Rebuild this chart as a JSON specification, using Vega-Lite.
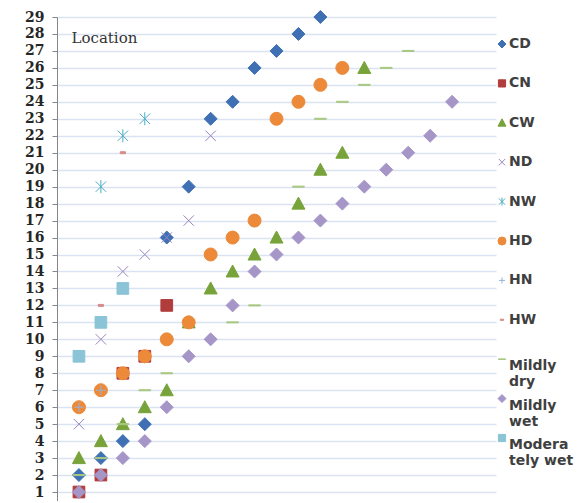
{
  "$schema": "https://vega.github.io/schema/vega-lite/v6.json",
  "width": 439,
  "height": 483.5,
  "autosize": {"type": "none"},
  "padding": {"left": 57, "top": 17, "right": 88, "bottom": 2.5},
  "background": "white",
  "config": {
    "view": {"stroke": null},
    "axis": {"domainColor": "#868686", "tickColor": "#868686"}
  },
  "data": {
    "values": [
      {"s": "CD", "x": 1, "y": 2}, {"s": "CD", "x": 2, "y": 3}, {"s": "CD", "x": 3, "y": 4}, {"s": "CD", "x": 4, "y": 5},
      {"s": "CD", "x": 5, "y": 16}, {"s": "CD", "x": 6, "y": 19}, {"s": "CD", "x": 7, "y": 23}, {"s": "CD", "x": 8, "y": 24},
      {"s": "CD", "x": 9, "y": 26}, {"s": "CD", "x": 10, "y": 27}, {"s": "CD", "x": 11, "y": 28}, {"s": "CD", "x": 12, "y": 29},
      {"s": "CN", "x": 1, "y": 1}, {"s": "CN", "x": 2, "y": 2}, {"s": "CN", "x": 3, "y": 8}, {"s": "CN", "x": 4, "y": 9}, {"s": "CN", "x": 5, "y": 12},
      {"s": "CW", "x": 1, "y": 3}, {"s": "CW", "x": 2, "y": 4}, {"s": "CW", "x": 3, "y": 5}, {"s": "CW", "x": 4, "y": 6},
      {"s": "CW", "x": 5, "y": 7}, {"s": "CW", "x": 6, "y": 11}, {"s": "CW", "x": 7, "y": 13}, {"s": "CW", "x": 8, "y": 14},
      {"s": "CW", "x": 9, "y": 15}, {"s": "CW", "x": 10, "y": 16}, {"s": "CW", "x": 11, "y": 18}, {"s": "CW", "x": 12, "y": 20},
      {"s": "CW", "x": 13, "y": 21}, {"s": "CW", "x": 14, "y": 26},
      {"s": "ND", "x": 1, "y": 5}, {"s": "ND", "x": 2, "y": 10}, {"s": "ND", "x": 3, "y": 14}, {"s": "ND", "x": 4, "y": 15},
      {"s": "ND", "x": 5, "y": 16}, {"s": "ND", "x": 6, "y": 17}, {"s": "ND", "x": 7, "y": 22},
      {"s": "NW", "x": 2, "y": 19}, {"s": "NW", "x": 3, "y": 22}, {"s": "NW", "x": 4, "y": 23},
      {"s": "HD", "x": 1, "y": 6}, {"s": "HD", "x": 2, "y": 7}, {"s": "HD", "x": 3, "y": 8}, {"s": "HD", "x": 4, "y": 9},
      {"s": "HD", "x": 5, "y": 10}, {"s": "HD", "x": 6, "y": 11}, {"s": "HD", "x": 7, "y": 15}, {"s": "HD", "x": 8, "y": 16},
      {"s": "HD", "x": 9, "y": 17}, {"s": "HD", "x": 10, "y": 23}, {"s": "HD", "x": 11, "y": 24}, {"s": "HD", "x": 12, "y": 25},
      {"s": "HD", "x": 13, "y": 26},
      {"s": "HN", "x": 1, "y": 6}, {"s": "HN", "x": 2, "y": 7},
      {"s": "HW", "x": 2, "y": 12}, {"s": "HW", "x": 3, "y": 21},
      {"s": "Mildly dry", "x": 1, "y": 2}, {"s": "Mildly dry", "x": 2, "y": 3}, {"s": "Mildly dry", "x": 3, "y": 5},
      {"s": "Mildly dry", "x": 4, "y": 7}, {"s": "Mildly dry", "x": 5, "y": 8}, {"s": "Mildly dry", "x": 8, "y": 11},
      {"s": "Mildly dry", "x": 9, "y": 12}, {"s": "Mildly dry", "x": 11, "y": 19}, {"s": "Mildly dry", "x": 12, "y": 23},
      {"s": "Mildly dry", "x": 13, "y": 24}, {"s": "Mildly dry", "x": 14, "y": 25}, {"s": "Mildly dry", "x": 15, "y": 26},
      {"s": "Mildly dry", "x": 16, "y": 27},
      {"s": "Mildly wet", "x": 1, "y": 1}, {"s": "Mildly wet", "x": 2, "y": 2}, {"s": "Mildly wet", "x": 3, "y": 3},
      {"s": "Mildly wet", "x": 4, "y": 4}, {"s": "Mildly wet", "x": 5, "y": 6}, {"s": "Mildly wet", "x": 6, "y": 9},
      {"s": "Mildly wet", "x": 7, "y": 10}, {"s": "Mildly wet", "x": 8, "y": 12}, {"s": "Mildly wet", "x": 9, "y": 14},
      {"s": "Mildly wet", "x": 10, "y": 15}, {"s": "Mildly wet", "x": 11, "y": 16}, {"s": "Mildly wet", "x": 12, "y": 17},
      {"s": "Mildly wet", "x": 13, "y": 18}, {"s": "Mildly wet", "x": 14, "y": 19}, {"s": "Mildly wet", "x": 15, "y": 20},
      {"s": "Mildly wet", "x": 16, "y": 21}, {"s": "Mildly wet", "x": 17, "y": 22}, {"s": "Mildly wet", "x": 18, "y": 24},
      {"s": "Moderately wet", "x": 1, "y": 9}, {"s": "Moderately wet", "x": 2, "y": 11}, {"s": "Moderately wet", "x": 3, "y": 13}
    ]
  },
  "mark": {"type": "point", "filled": true, "opacity": 1, "strokeWidth": 1, "size": 169},
  "encoding": {
    "x": {"field": "x", "type": "quantitative", "scale": {"domain": [0, 20], "nice": false, "zero": false}, "axis": null},
    "y": {
      "field": "y", "type": "quantitative",
      "scale": {"domain": [0.5, 29], "nice": false, "zero": false},
      "axis": {
        "title": "Location",
        "titleAngle": 0, "titleX": 14, "titleY": 25, "titleAlign": "left", "titleBaseline": "alphabetic",
        "titleFont": "DejaVu Serif", "titleFontSize": 15, "titleFontWeight": "normal", "titleColor": "#333333",
        "values": [1,2,3,4,5,6,7,8,9,10,11,12,13,14,15,16,17,18,19,20,21,22,23,24,25,26,27,28,29],
        "grid": true, "gridColor": "#d9e3f1", "gridWidth": 1.3,
        "tickSize": 5, "labelPadding": 8,
        "labelFont": "DejaVu Serif", "labelFontSize": 14, "labelFontWeight": "bold", "labelColor": "#262626",
        "labelBound": false, "labelOverlap": false
      }
    },
    "fill": {
      "field": "s", "type": "nominal",
      "scale": {
        "domain": ["CD","CN","CW","ND","NW","HD","HN","HW","Mildly dry","Mildly wet","Moderately wet"],
        "range": ["#3e70b3","#b23c3c","#78a33a","#9a85c0","#4bacc6","#ec8a3a","#95b3d7","#d98a8a","#a8c880","#a696c8","#8ac4d6"]
      },
      "legend": {
        "orient": "none", "legendX": 438, "legendY": 20, "title": null,
        "symbolSize": 64, "symbolStrokeWidth": 1, "labelOffset": 0,
        "labelFont": "DejaVu Sans", "labelFontSize": 14, "labelFontWeight": "bold", "labelColor": "#404040",
        "gridAlign": "all", "rowPadding": 2.4, "labelLimit": 200,
        "labelExpr": "datum.label == 'Mildly dry' ? ['Mildly','dry'] : datum.label == 'Mildly wet' ? ['Mildly','wet'] : datum.label == 'Moderately wet' ? ['Modera','tely wet'] : datum.label",
        "labelBaseline": {"expr": "indexof(['Mildly dry','Mildly wet','Moderately wet'], datum.value) >= 0 ? 'top' : 'middle'"}
      }
    },
    "stroke": {
      "field": "s", "type": "nominal",
      "scale": {
        "domain": ["CD","CN","CW","ND","NW","HD","HN","HW","Mildly dry","Mildly wet","Moderately wet"],
        "range": ["#3e70b3","#b23c3c","#78a33a","#9a85c0","#4bacc6","#ec8a3a","#95b3d7","#d98a8a","#a8c880","#a696c8","#8ac4d6"]
      },
      "legend": {
        "orient": "none", "legendX": 438, "legendY": 20, "title": null,
        "symbolSize": 64, "symbolStrokeWidth": 1, "labelOffset": 0,
        "labelFont": "DejaVu Sans", "labelFontSize": 14, "labelFontWeight": "bold", "labelColor": "#404040",
        "gridAlign": "all", "rowPadding": 2.4, "labelLimit": 200,
        "labelExpr": "datum.label == 'Mildly dry' ? ['Mildly','dry'] : datum.label == 'Mildly wet' ? ['Mildly','wet'] : datum.label == 'Moderately wet' ? ['Modera','tely wet'] : datum.label",
        "labelBaseline": {"expr": "indexof(['Mildly dry','Mildly wet','Moderately wet'], datum.value) >= 0 ? 'top' : 'middle'"}
      }
    },
    "shape": {
      "field": "s", "type": "nominal",
      "scale": {
        "domain": ["CD","CN","CW","ND","NW","HD","HN","HW","Mildly dry","Mildly wet","Moderately wet"],
        "range": [
          "M-1,0L0,-1L1,0L0,1Z",
          "M-0.9,-0.9L0.9,-0.9L0.9,0.9L-0.9,0.9Z",
          "M0,-1L1,0.85L-1,0.85Z",
          "M-0.8,-0.8L0.8,0.8M-0.8,0.8L0.8,-0.8",
          "M-0.8,-0.8L0.8,0.8M-0.8,0.8L0.8,-0.8M0,-1L0,1",
          "circle",
          "M-0.75,0L0.75,0M0,-0.75L0,0.75",
          "M-0.4,-0.15L0.4,-0.15L0.4,0.15L-0.4,0.15Z",
          "M-0.9,-0.08L0.9,-0.08L0.9,0.08L-0.9,0.08Z",
          "M-1,0L0,-1L1,0L0,1Z",
          "M-0.9,-0.9L0.9,-0.9L0.9,0.9L-0.9,0.9Z"
        ]
      },
      "legend": {
        "orient": "none", "legendX": 438, "legendY": 20, "title": null,
        "symbolSize": 64, "symbolStrokeWidth": 1, "labelOffset": 0,
        "labelFont": "DejaVu Sans", "labelFontSize": 14, "labelFontWeight": "bold", "labelColor": "#404040",
        "gridAlign": "all", "rowPadding": 2.4, "labelLimit": 200,
        "labelExpr": "datum.label == 'Mildly dry' ? ['Mildly','dry'] : datum.label == 'Mildly wet' ? ['Mildly','wet'] : datum.label == 'Moderately wet' ? ['Modera','tely wet'] : datum.label",
        "labelBaseline": {"expr": "indexof(['Mildly dry','Mildly wet','Moderately wet'], datum.value) >= 0 ? 'top' : 'middle'"}
      }
    }
  }
}
